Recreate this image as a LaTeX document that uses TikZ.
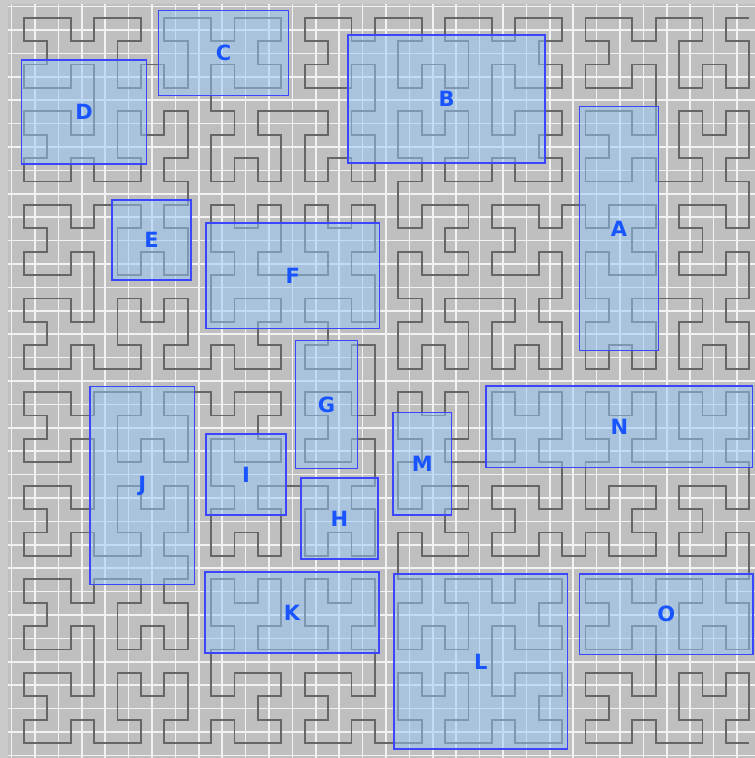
\documentclass[tikz,border=0pt]{standalone}
\usepackage{fontspec}
\setmainfont{DejaVu Sans}
\definecolor{bandgrey}{HTML}{CACACA}
\definecolor{bggrey}{HTML}{BFBFBF}
\definecolor{curvegrey}{HTML}{666666}
\definecolor{gridwhite}{HTML}{F2F2F2}
\definecolor{regfill}{RGB}{150,200,250}
\definecolor{regedge}{RGB}{60,70,255}
\definecolor{labblue}{RGB}{25,85,255}
% turtle for the Hilbert curve (L -> +RF-LFL-FR+, R -> -LF+RFR+FL-)
\newcount\hdir
\newdimen\hx \newdimen\hy
\def\hstep{23.4pt}
\def\hF{%
  \ifcase\hdir \advance\hx by \hstep\relax
  \or \advance\hy by \hstep\relax
  \or \advance\hx by -\hstep\relax
  \or \advance\hy by -\hstep\relax
  \fi
  \pgfpathlineto{\pgfqpoint{\hx}{\hy}}}
\def\hP{\advance\hdir by 1\relax \ifnum\hdir>3 \advance\hdir by -4\relax\fi}
\def\hM{\advance\hdir by -1\relax \ifnum\hdir<0 \advance\hdir by 4\relax\fi}
\def\hL#1{\ifnum\numexpr#1\relax>0
  \hP\hR{#1-1}\hF\hM\hL{#1-1}\hF\hL{#1-1}\hM\hF\hR{#1-1}\hP\fi}
\def\hR#1{\ifnum\numexpr#1\relax>0
  \hM\hL{#1-1}\hF\hP\hR{#1-1}\hF\hR{#1-1}\hP\hF\hL{#1-1}\hM\fi}
\tikzset{
  gridline/.style={gridwhite, line width=1.5pt},
  region/.style={draw=regedge, line width=1.1pt, fill=regfill, fill opacity=0.5},
  lab/.style={text=labblue, font=\fontsize{21}{21}\selectfont\bfseries, inner sep=0pt},
}
\begin{document}
\begin{tikzpicture}[x=1pt,y=-1pt]
\useasboundingbox (0,0) rectangle (755,758);
\fill[bandgrey] (0,0) rectangle (755,758);
\fill[bggrey] (8,4) rectangle (755,758);
\foreach \k in {0,...,31} \draw[gridline] ({11.6+23.4*\k},4) -- ({11.6+23.4*\k},758);
\foreach \k in {0,...,32} \draw[gridline] (8,{6.6+23.4*\k}) -- (755,{6.6+23.4*\k});
% Hilbert curve, order 5, from the bottom-right corner up the right side
\begin{pgfscope}
  \pgfsetlinewidth{1.8pt}
  \pgfsetstrokecolor{curvegrey}
  \pgfsetmiterjoin
  \hx=749.3pt \hy=-743pt \hdir=0
  \pgfpathmoveto{\pgfqpoint{\hx}{\hy}}
  \hP\hL{5}
  \pgfusepath{stroke}
\end{pgfscope}
% regions
\path[region] (579.3,106.7) rectangle (658.7,350.5); \node[lab] (A) at (619,228.6) {A};
\path[region] (348,35) rectangle (545,163);          \node[lab] (B) at (446.5,99) {B};
\path[region] (158.7,10.7) rectangle (288.5,95.7);   \node[lab] (C) at (223.6,53.2) {C};
\path[region] (21.7,60) rectangle (146.7,164);       \node[lab] (D) at (84.2,112) {D};
\path[region] (112,200) rectangle (191,280);         \node[lab] (E) at (151.5,240) {E};
\path[region] (206,223) rectangle (379.3,328.3);     \node[lab] (F) at (292.7,275.7) {F};
\path[region] (295.7,340.3) rectangle (357.3,468.7); \node[lab] (G) at (326.5,404.5) {G};
\path[region] (301,478) rectangle (378,559);         \node[lab] (H) at (339.5,518.5) {H};
\path[region] (206,434) rectangle (286,515);         \node[lab] (I) at (246,474.5) {I};
\path[region] (90,386.7) rectangle (194.7,584.7);    \node[lab] (J) at (142.4,485.7) {J};
\path[region] (205,572) rectangle (379,653);         \node[lab] (K) at (292,612.5) {K};
\path[region] (394,574) rectangle (567.3,749);       \node[lab] (L) at (480.7,661.5) {L};
\path[region] (393,412.7) rectangle (451.7,515);     \node[lab] (M) at (422.4,463.9) {M};
\path[region] (486,386) rectangle (752.7,467.3);     \node[lab] (N) at (619.4,426.7) {N};
\path[region] (579.3,574) rectangle (753,654.7);     \node[lab] (O) at (666.2,614.3) {O};
\end{tikzpicture}
\end{document}
